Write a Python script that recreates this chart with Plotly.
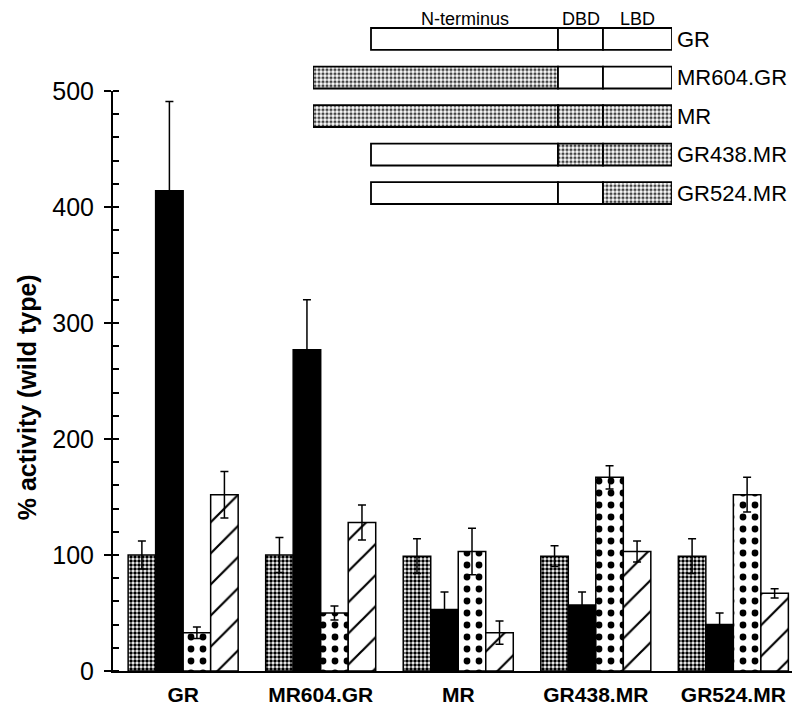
import plotly.graph_objects as go

# ---------------- data ----------------
categories = ["GR", "MR604.GR", "MR", "GR438.MR", "GR524.MR"]
series_names = ["Condition 1", "Condition 2", "Condition 3", "Condition 4"]
vals_1 = [100, 100, 99, 99, 99]
vals_2 = [414, 277, 53, 57, 40]
vals_3 = [33, 50, 103, 167, 152]
vals_4 = [152, 128, 33, 103, 67]
err_1 = [12, 15, 15, 9, 15]
err_2 = [77, 43, 15, 11, 10]
err_3 = [5, 6, 20, 10, 15]
err_4 = [20, 15, 10, 9, 4]
y_ticks = [0, 100, 200, 300, 400, 500]
y_minor_step = 20

# inset construct diagram
constructs = ["GR", "MR604.GR", "MR", "GR438.MR", "GR524.MR"]
ntd_source = ["GR", "MR", "MR", "GR", "GR"]
dbd_source = ["GR", "GR", "MR", "MR", "GR"]
lbd_source = ["GR", "GR", "MR", "MR", "MR"]
domain_labels = ["N-terminus", "DBD", "LBD"]
# drawing lengths of each domain (diagram units)
ntd_len = {"GR": 187, "MR": 245}
dbd_len = 45
lbd_len = 69

FONT = "Liberation Sans, Arial, Helvetica, sans-serif"

fig = go.Figure()

# ---------------- main bars ----------------
patterns = [
    dict(shape=".", fgcolor="black", bgcolor="white", fgopacity=1, size=4, solidity=0.6),
    None,
    dict(shape=".", fgcolor="black", bgcolor="white", fgopacity=1, size=12, solidity=0.25),
    dict(shape="/", fgcolor="black", bgcolor="white", fgopacity=1, size=22, solidity=0.1),
]
colors = ["white", "black", "white", "white"]
all_vals = [vals_1, vals_2, vals_3, vals_4]
all_errs = [err_1, err_2, err_3, err_4]
offsets = [-0.4, -0.2, 0.0, 0.2]
for i in range(4):
    marker = dict(color=colors[i], line=dict(color="black", width=1.5))
    if patterns[i] is not None:
        marker["pattern"] = patterns[i]
    fig.add_trace(go.Bar(
        x=categories, y=all_vals[i], name=series_names[i],
        offset=offsets[i], width=0.2,
        marker=marker,
        error_y=dict(type="data", array=all_errs[i], color="black",
                     thickness=1.5, width=4),
        xaxis="x", yaxis="y", showlegend=False,
    ))

# ---------------- inset diagram ----------------
def seg_marker(sources):
    return dict(
        color=["white" for s in sources],
        line=dict(color="black", width=1.8),
        pattern=dict(
            shape=["." if s == "MR" else "" for s in sources],
            fgcolor="black", bgcolor="white", fgopacity=1, size=4, solidity=0.5,
        ),
    )

ntd_lengths = [ntd_len[s] for s in ntd_source]
fig.add_trace(go.Bar(
    y=constructs, x=ntd_lengths, base=[-l for l in ntd_lengths],
    orientation="h", width=0.57, marker=seg_marker(ntd_source),
    xaxis="x2", yaxis="y2", showlegend=False, hoverinfo="skip",
))
fig.add_trace(go.Bar(
    y=constructs, x=[dbd_len] * len(constructs), base=[0] * len(constructs),
    orientation="h", width=0.57, marker=seg_marker(dbd_source),
    xaxis="x2", yaxis="y2", showlegend=False, hoverinfo="skip",
))
fig.add_trace(go.Bar(
    y=constructs, x=[lbd_len] * len(constructs), base=[dbd_len] * len(constructs),
    orientation="h", width=0.57, marker=seg_marker(lbd_source),
    xaxis="x2", yaxis="y2", showlegend=False, hoverinfo="skip",
))

label_centers = [-ntd_len["GR"] / 2, dbd_len / 2, dbd_len + lbd_len / 2]
annotations = []
for lab, xc in zip(domain_labels, label_centers):
    annotations.append(dict(
        text=lab, x=xc, xref="x2", y=1.0, yref="paper",
        xanchor="center", yanchor="top", showarrow=False, borderpad=0,
        font=dict(family=FONT, size=18, color="black"),
    ))
annotations.append(dict(
    text="% activity (wild type)", textangle=-90,
    x=-0.1255, xref="paper", y=0.413, yref="paper",
    xanchor="center", yanchor="middle", showarrow=False,
    font=dict(family=FONT, size=25, color="black", weight="bold"),
))

# page body has an 8px default margin: layout is shifted up/left by 8px
fig.update_layout(
    width=800, height=708,
    margin=dict(l=105, r=10, t=0, b=45, autoexpand=False),
    paper_bgcolor="white", plot_bgcolor="white",
    barmode="overlay",
    font=dict(family=FONT, color="black"),
    xaxis=dict(
        domain=[0, 1], range=[-0.51, 4.47], type="category",
        showline=True, linecolor="black", linewidth=2,
        ticks="", showgrid=False, zeroline=False, automargin=False,
        tickfont=dict(family=FONT, size=21, color="black", weight="bold"),
        ticklabelstandoff=4, anchor="y",
    ),
    yaxis=dict(
        domain=[0, 580 / 663], range=[y_ticks[0], y_ticks[-1]],
        tickmode="linear", tick0=y_ticks[0], dtick=y_ticks[1] - y_ticks[0],
        showline=True, linecolor="black", linewidth=2,
        ticks="outside", ticklen=7, tickwidth=2, tickcolor="black",
        minor=dict(ticks="inside", ticklen=6, tickwidth=1.5, dtick=y_minor_step,
                   tickcolor="black", showgrid=False),
        showgrid=False, zeroline=False, automargin=False,
        tickfont=dict(family=FONT, size=25, color="black"),
        ticklabelstandoff=5, anchor="x",
    ),
    xaxis2=dict(
        domain=[200 / 685, 559 / 685], range=[-245, 114],
        visible=False, anchor="y2", automargin=False,
    ),
    yaxis2=dict(
        domain=[0.6919, 0.9823], type="category",
        categoryarray=constructs, range=[4.5, -0.5],
        side="right", anchor="x2", automargin=False,
        showline=False, ticks="", showgrid=False, zeroline=False,
        tickfont=dict(family=FONT, size=22, color="black"),
        ticklabelstandoff=4,
    ),
    annotations=annotations,
)

fig.write_html("out.html")
